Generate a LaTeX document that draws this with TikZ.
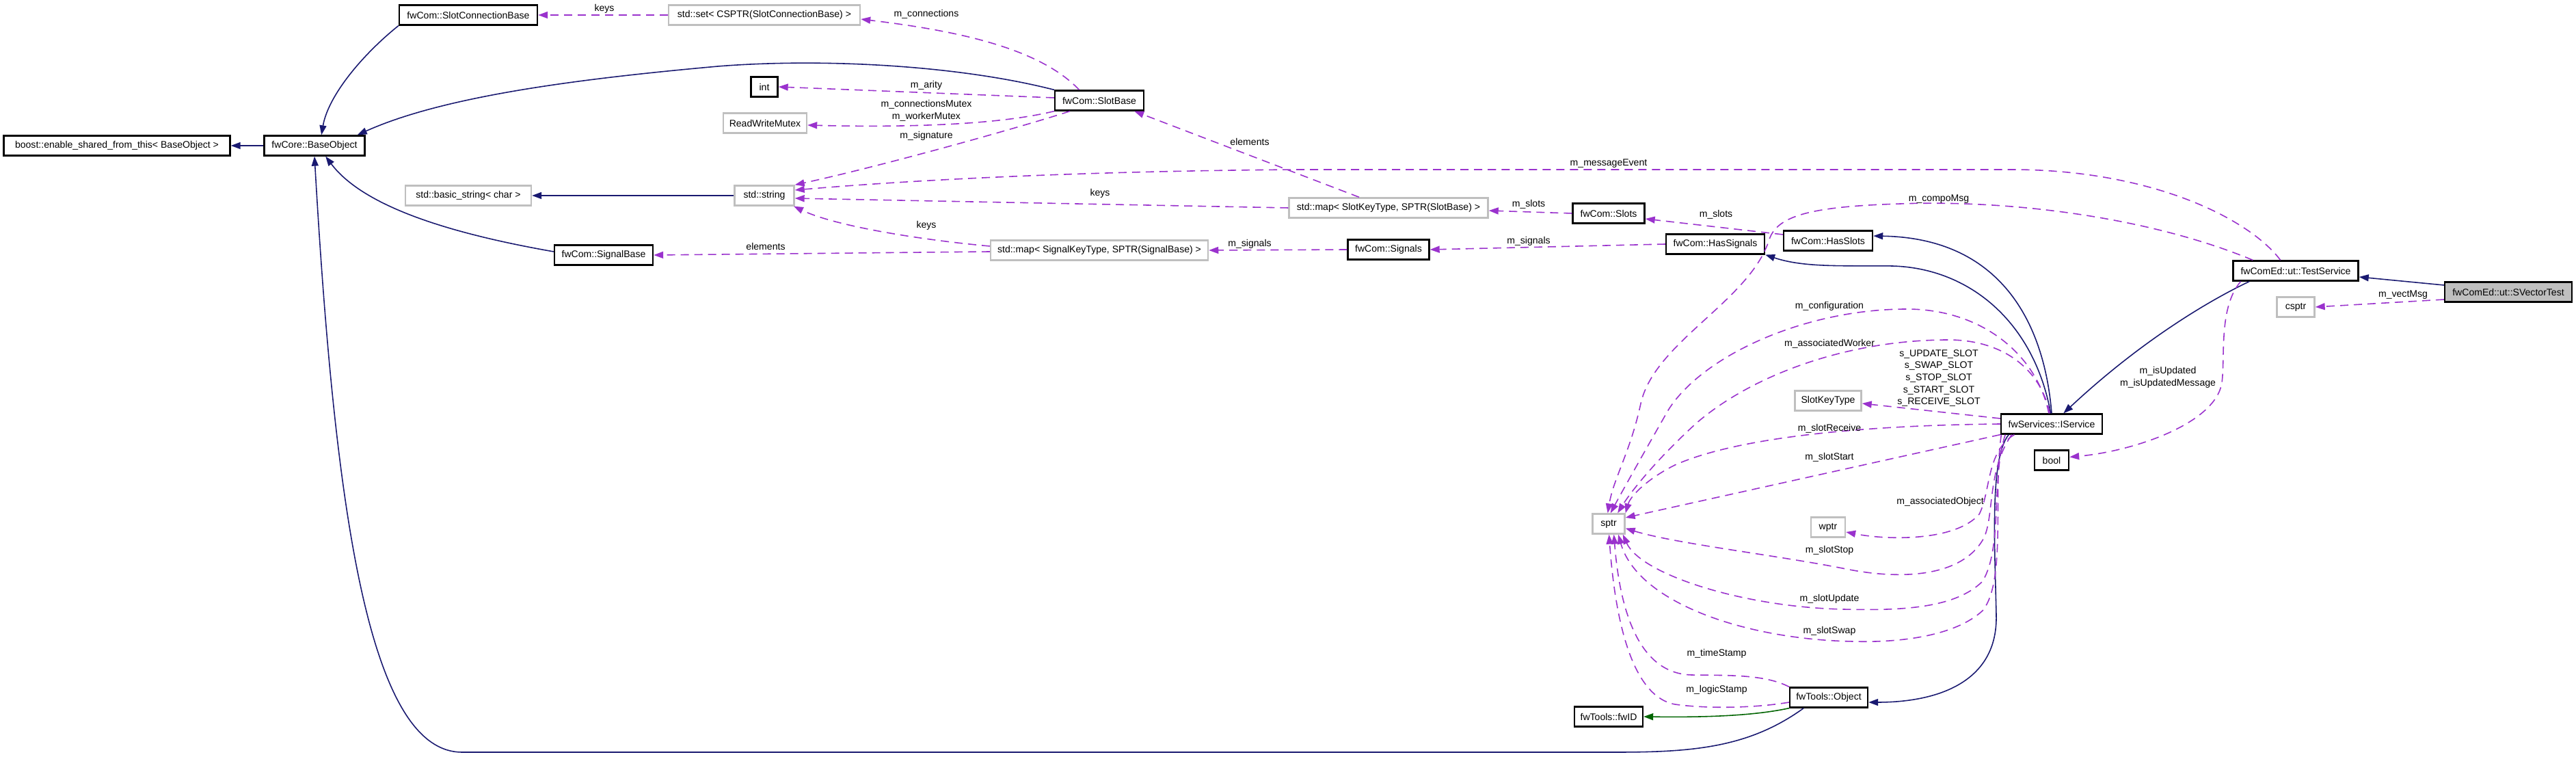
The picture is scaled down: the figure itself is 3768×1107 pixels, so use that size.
\documentclass[tikz,border=0pt]{standalone}
\usepackage{fontspec}
\setmainfont{Liberation Sans}
\usetikzlibrary{arrows.meta}
\definecolor{inheritBlue}{RGB}{25, 25, 112}
\definecolor{usageViolet}{RGB}{154, 50, 205}
\definecolor{protectGreen}{RGB}{0, 100, 0}
\definecolor{undocGray}{RGB}{191, 191, 191}

\begin{document}
\begin{tikzpicture}[x=0.01cm, y=-0.01cm, font=\fontsize{4}{5}\selectfont,
	cls/.style={draw=black, line width=0.65pt, fill=white, minimum height=0.29cm, inner sep=0pt},
	ext/.style={cls, draw=undocGray},
	inheritance/.style={draw=inheritBlue, line width=0.45pt, -{Triangle[length=0.14cm, width=0.1cm]}},
	protectedInh/.style={inheritance, draw=protectGreen},
	usage/.style={draw=usageViolet, line width=0.45pt, dash pattern=on 0.12cm off 0.08cm, -{Triangle[length=0.14cm, width=0.1cm]}},
	lbl/.style={inner sep=0pt, text=black}]
	\useasboundingbox (0,0) rectangle (3768,1107);
	
	% Classes
	\node[cls, minimum width=3.31cm] (boostEsft) at (171,213) {boost::enable\_shared\_from\_this< BaseObject >};
	\node[cls, minimum width=1.47cm] (baseObject) at (460,213) {fwCore::BaseObject};
	\node[cls, minimum width=2.02cm] (slotConnBase) at (685,22) {fwCom::SlotConnectionBase};
	\node[ext, minimum width=1.84cm] (basicString) at (685,286) {std::basic\_string< char >};
	\node[cls, minimum width=1.44cm] (signalBase) at (883,373) {fwCom::SignalBase};
	\node[ext, minimum width=2.80cm] (slotConnSet) at (1118,22) {std::set< CSPTR(SlotConnectionBase) >};
	\node[cls, minimum width=0.39cm] (intType) at (1118,127) {int};
	\node[ext, minimum width=1.22cm] (rwMutex) at (1119,180) {ReadWriteMutex};
	\node[ext, minimum width=0.87cm] (stdString) at (1118,286) {std::string};
	\node[cls, minimum width=1.30cm] (slotBase) at (1608,147) {fwCom::SlotBase};
	\node[ext, minimum width=3.18cm] (signalMap) at (1608,366) {std::map< SignalKeyType, SPTR(SignalBase) >};
	\node[ext, minimum width=2.91cm] (slotMap) at (2031,304) {std::map< SlotKeyType, SPTR(SlotBase) >};
	\node[cls, minimum width=1.19cm] (signals) at (2031,365) {fwCom::Signals};
	\node[cls, minimum width=1.05cm] (slots) at (2353,312) {fwCom::Slots};
	\node[cls, minimum width=1.44cm] (hasSignals) at (2509,357) {fwCom::HasSignals};
	\node[cls, minimum width=1.30cm] (hasSlots) at (2674,352) {fwCom::HasSlots};
	\node[ext, minimum width=0.97cm] (slotKeyType) at (2674,586) {SlotKeyType};
	\node[ext, minimum width=0.47cm] (sptr) at (2353,766) {sptr};
	\node[ext, minimum width=0.50cm] (wptr) at (2674,771) {wptr};
	\node[cls, minimum width=1.00cm] (fwId) at (2353,1048) {fwTools::fwID};
	\node[cls, minimum width=1.14cm] (toolsObject) at (2675,1020) {fwTools::Object};
	\node[cls, minimum width=1.48cm] (iService) at (3001,620) {fwServices::IService};
	\node[cls, minimum width=0.50cm] (boolType) at (3001,673) {bool};
	\node[cls, minimum width=1.83cm] (testService) at (3358,396) {fwComEd::ut::TestService};
	\node[ext, minimum width=0.55cm] (csptr) at (3358,449) {csptr};
	\node[cls, fill=undocGray, minimum width=1.86cm] (vectorTest) at (3669,427) {fwComEd::ut::SVectorTest};
	
	% Inheritance
	\draw[inheritance] (slotConnBase.south west) .. controls (530,80) and (480,140) .. (baseObject.57);
	\draw[inheritance] (slotBase.north west) .. controls (1400,95) and (1200,85) .. (1050,97) .. controls (850,115) and (650,140) .. (baseObject.14);
	\draw[inheritance] (baseObject.west) -- (boostEsft.east);
	\draw[inheritance] (stdString.west) -- (basicString.east);
	\draw[inheritance] ([yshift=0.05cm]signalBase.west) .. controls (650,340) and (530,300) .. (baseObject.-44);
	\draw[inheritance] (toolsObject.-157) .. controls (2560,1092) and (2480,1100) .. (2366,1100) -- (676,1100) .. controls (540,1100) and (490,750) .. (baseObject.south);
	\draw[inheritance] (iService.95) .. controls (2975,470) and (2880,392) .. (2768,389) .. controls (2700,388) and (2640,392) .. (hasSignals.-12);
	\draw[inheritance] (iService.90) .. controls (2990,470) and (2925,348) .. (hasSlots.6);
	\draw[inheritance] (testService.-167) .. controls (3230,440) and (3130,500) .. (iService.42);
	\draw[inheritance] ([yshift=0.1cm]vectorTest.west) -- ([yshift=-0.09cm]testService.east);
	\draw[inheritance] (iService.-166) .. controls (2910,670) and (2918,800) .. (2920,900) .. controls (2922,1000) and (2830,1027) .. ([yshift=-0.07cm]toolsObject.east);
	\draw[protectedInh] (toolsObject.south west) .. controls (2560,1048) and (2480,1049) .. (fwId.east);
	
	% Members
	\draw[usage] (slotConnSet.west) -- (slotConnBase.east) node[lbl] at (884,13) {keys};
	\draw[usage] (slotBase.152) .. controls (1520,70) and (1400,45) .. ([yshift=-0.06cm]slotConnSet.east) node[lbl] at (1355,21) {m\_connections};
	\draw[usage] ([yshift=0.04cm]slotBase.west) -- (intType.east) node[lbl] at (1355,125) {m\_arity};
	\draw[usage] (slotBase.south west) .. controls (1450,185) and (1300,186) .. ([yshift=-0.03cm]rwMutex.east) node[lbl, align=center] at (1355,162) {m\_connectionsMutex\\m\_workerMutex};
	\draw[usage] (slotBase.-160) .. controls (1480,190) and (1280,245) .. (stdString.north east) node[lbl] at (1355,199) {m\_signature};
	\draw[usage] (testService.145) .. controls (3290,320) and (3150,250) .. (2950,248) -- (1900,248) .. controls (1600,250) and (1350,262) .. ([yshift=0.08cm]stdString.east) node[lbl] at (2353,239) {m\_messageEvent};
	\draw[usage] (slotMap.west) -- ([yshift=-0.04cm]stdString.east) node[lbl] at (1609,283) {keys};
	\draw[usage] (slotMap.160) -- (slotBase.-17) node[lbl] at (1828,207) {elements};
	\draw[usage] ([yshift=0.06cm]signalMap.west) .. controls (1340,350) and (1220,330) .. (stdString.-20) node[lbl] at (1355,330) {keys};
	\draw[usage] ([yshift=-0.02cm]signalMap.west) -- (signalBase.east) node[lbl] at (1120,360) {elements};
	\draw[usage] (signals.west) -- (signalMap.east) node[lbl] at (1828,357) {m\_signals};
	\draw[usage] (slots.west) -- ([yshift=-0.04cm]slotMap.east) node[lbl] at (2236,299) {m\_slots};
	\draw[usage] (hasSignals.west) -- (signals.east) node[lbl] at (2236,353) {m\_signals};
	\draw[usage] ([yshift=0.09cm]hasSlots.west) -- ([yshift=-0.08cm]slots.east) node[lbl] at (2510,314) {m\_slots};
	\draw[usage] (testService.166) .. controls (3150,320) and (2950,292) .. (2780,298) .. controls (2650,302) and (2600,315) .. (2588,350) .. controls (2560,440) and (2420,500) .. (2400,590) .. controls (2385,660) and (2360,700) .. (sptr.95) node[lbl] at (2836,291) {m\_compoMsg};
	\draw[usage] (iService.105) .. controls (2980,520) and (2900,452) .. (2789,452) .. controls (2640,452) and (2490,520) .. (2440,600) .. controls (2400,670) and (2372,720) .. (sptr.80) node[lbl] at (2676,448) {m\_configuration};
	\draw[usage] (iService.100) .. controls (2985,540) and (2930,497) .. (2850,497) .. controls (2700,497) and (2560,550) .. (2480,620) .. controls (2420,675) and (2385,720) .. (sptr.50) node[lbl] at (2676,503) {m\_associatedWorker};
	\draw[usage] ([yshift=0.08cm]iService.west) -- ([yshift=-0.04cm]slotKeyType.east) node[lbl, align=center] at (2836,553) {s\_UPDATE\_SLOT\\s\_SWAP\_SLOT\\s\_STOP\_SLOT\\s\_START\_SLOT\\s\_RECEIVE\_SLOT};
	\draw[usage] (iService.west) .. controls (2720,622) and (2540,640) .. (2450,680) .. controls (2410,700) and (2385,725) .. (sptr.north east) node[lbl] at (2676,627) {m\_slotReceive};
	\draw[usage] (iService.south west) -- (sptr.20) node[lbl] at (2676,669) {m\_slotStart};
	\draw[usage] (iService.-164) .. controls (2905,660) and (2912,720) .. (2895,752) .. controls (2860,792) and (2760,790) .. (wptr.-15) node[lbl] at (2838,734) {m\_associatedObject};
	\draw[usage] (iService.-165) .. controls (2905,690) and (2918,760) .. (2900,790) .. controls (2870,840) and (2790,850) .. (2700,832) .. controls (2600,812) and (2450,795) .. (sptr.-15) node[lbl] at (2676,805) {m\_slotStop};
	\draw[usage] (iService.-167) .. controls (2912,700) and (2930,800) .. (2900,850) .. controls (2860,890) and (2780,893) .. (2697,891) .. controls (2550,888) and (2400,840) .. (sptr.-37) node[lbl] at (2676,876) {m\_slotUpdate};
	\draw[usage] (iService.-168) .. controls (2915,720) and (2935,850) .. (2900,893) .. controls (2860,930) and (2780,940) .. (2710,938) .. controls (2550,935) and (2395,880) .. (sptr.-48) node[lbl] at (2676,923) {m\_slotSwap};
	\draw[usage] (toolsObject.north west) .. controls (2580,985) and (2520,988) .. (2474,987) .. controls (2400,985) and (2370,900) .. (sptr.-64) node[lbl] at (2511,956) {m\_timeStamp};
	\draw[usage] ([yshift=-0.07cm]toolsObject.west) .. controls (2570,1035) and (2500,1037) .. (2450,1030) .. controls (2385,1018) and (2362,900) .. (sptr.-88) node[lbl] at (2511,1009) {m\_logicStamp};
	\draw[usage] (testService.-169) .. controls (3245,450) and (3255,520) .. (3250,560) .. controls (3240,620) and (3120,660) .. (boolType.10) node[lbl, align=center] at (3171,552) {m\_isUpdated\\m\_isUpdatedMessage};
	\draw[usage] ([yshift=-0.11cm]vectorTest.west) -- (csptr.east) node[lbl] at (3515,431) {m\_vectMsg};
\end{tikzpicture}
\end{document}
